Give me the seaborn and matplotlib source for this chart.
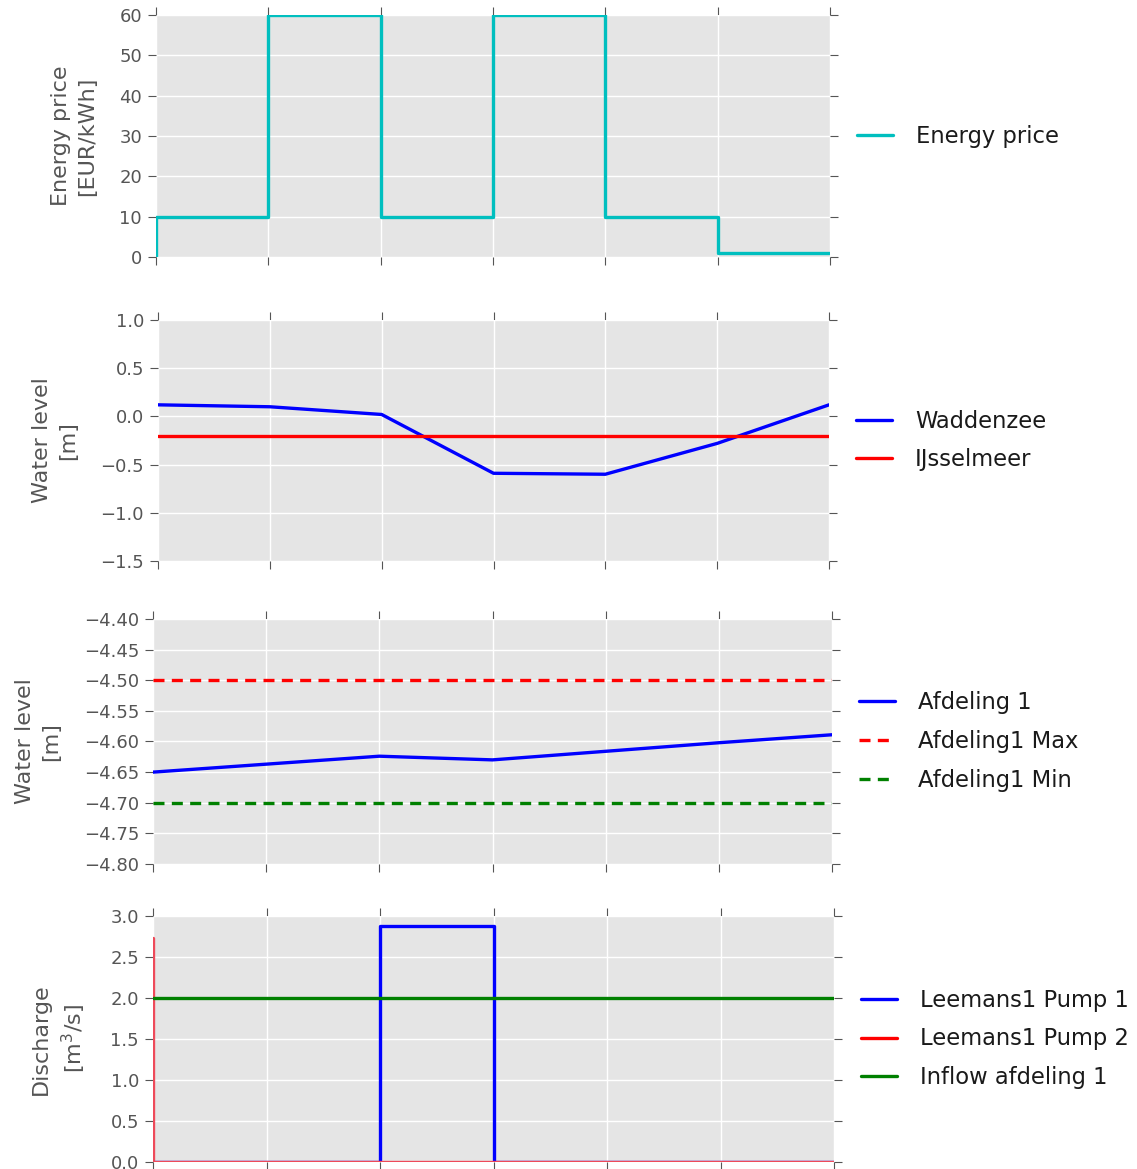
import matplotlib
matplotlib.use("Agg")
import matplotlib.pyplot as plt
import matplotlib.ticker as mticker
import seaborn as sns
import numpy as np

# ---- data ----
time_steps = [0, 1, 2, 3, 4, 5, 6]
energy_price = [0, 10, 60, 10, 60, 10, 1]
waddenzee = [0.12, 0.10, 0.02, -0.59, -0.60, -0.28, 0.12]
ijsselmeer = [-0.20, -0.20, -0.20, -0.20, -0.20, -0.20, -0.20]
afdeling1 = [-4.650, -4.637, -4.624, -4.630, -4.616, -4.602, -4.589]
afdeling1_max = [-4.50, -4.50, -4.50, -4.50, -4.50, -4.50, -4.50]
afdeling1_min = [-4.70, -4.70, -4.70, -4.70, -4.70, -4.70, -4.70]
pump1 = [0.0, 0.0, 0.0, 2.88, 0.0, 0.0, 0.0]
pump2 = [2.73, 0.0, 0.0, 0.0, 0.0, 0.0, 0.0]
inflow = [2.0, 2.0, 2.0, 2.0, 2.0, 2.0, 2.0]

sns.set_theme(style="darkgrid")
plt.rcParams.update({
    "axes.facecolor": "#E5E5E5",
    "axes.edgecolor": "#E5E5E5",
    "grid.color": "white",
    "grid.linewidth": 1.0,
    "xtick.direction": "out",
    "ytick.direction": "out",
    "xtick.major.size": 6,
    "ytick.major.size": 6,
    "xtick.major.width": 0.8,
    "ytick.major.width": 0.8,
    "xtick.color": "#555555",
    "ytick.color": "#555555",
    "xtick.labelcolor": "#555555",
    "ytick.labelcolor": "#555555",
    "axes.labelcolor": "#555555",
    "xtick.top": True,
    "ytick.right": True,
    "xtick.bottom": True,
    "ytick.left": True,
    "lines.dashed_pattern": [3.3, 2.2],
    "axes.unicode_minus": True,
})
plt.rcParams["font.family"] = ["DejaVu Sans"]

C_CYAN = "#00BFBF"
C_BLUE = "#0000FF"
C_RED = "#FF0000"
C_GREEN = "#008000"

fig = plt.figure(figsize=(11.37, 11.69), dpi=100)
W, H = 1137, 1169

def add_ax(x0, x1, y0, y1):
    return fig.add_axes([x0 / W, 1 - y1 / H, (x1 - x0) / W, (y1 - y0) / H])

ax1 = add_ax(156, 830, 15, 257)
ax2 = add_ax(158, 829, 320, 561)
ax3 = add_ax(153, 832, 619, 864)
ax4 = add_ax(153, 834, 916, 1162)

LW = 2.4
TICK_FS = 13
LAB_FS = 16
LEG_FS = 16.3

# Panel 1
sns.lineplot(x=time_steps, y=energy_price, ax=ax1, color=C_CYAN, lw=LW,
             drawstyle="steps-pre", label="Energy price")
ax1.set_ylim(0, 60)
ax1.set_yticks([0, 10, 20, 30, 40, 50, 60])
ax1.set_ylabel("Energy price\n[EUR/kWh]", fontsize=LAB_FS, labelpad=16, linespacing=1.4)

# Panel 2
sns.lineplot(x=time_steps, y=waddenzee, ax=ax2, color=C_BLUE, lw=LW, label="Waddenzee")
sns.lineplot(x=time_steps, y=ijsselmeer, ax=ax2, color=C_RED, lw=LW, label="IJsselmeer")
ax2.set_ylim(-1.5, 1.0)
ax2.set_yticks([-1.5, -1.0, -0.5, 0.0, 0.5, 1.0])
ax2.set_ylabel("Water level\n[m]", fontsize=LAB_FS, labelpad=16, linespacing=1.4)

# Panel 3
sns.lineplot(x=time_steps, y=afdeling1, ax=ax3, color=C_BLUE, lw=LW, label="Afdeling 1")
sns.lineplot(x=time_steps, y=afdeling1_max, ax=ax3, color=C_RED, lw=LW, ls="--",
             label="Afdeling1 Max")
sns.lineplot(x=time_steps, y=afdeling1_min, ax=ax3, color=C_GREEN, lw=LW, ls="--",
             label="Afdeling1 Min")
ax3.set_ylim(-4.8, -4.4)
ax3.set_yticks(np.round(np.arange(-4.80, -4.39, 0.05), 2))
ax3.yaxis.set_major_formatter(mticker.FuncFormatter(lambda v, p: f"{v:.2f}".replace("-", "\u2212")))
ax3.set_ylabel("Water level\n[m]", fontsize=LAB_FS, labelpad=16, linespacing=1.4)

# Panel 4
sns.lineplot(x=time_steps, y=pump1, ax=ax4, color=C_BLUE, lw=LW,
             drawstyle="steps-pre", label="Leemans1 Pump 1")
sns.lineplot(x=time_steps, y=pump2, ax=ax4, color="#EE4A5A", lw=LW,
             drawstyle="steps-pre", label="Leemans1 Pump 2")
sns.lineplot(x=time_steps, y=inflow, ax=ax4, color=C_GREEN, lw=LW, label="Inflow afdeling 1")
ax4.set_ylim(0, 3.0)
ax4.set_yticks([0.0, 0.5, 1.0, 1.5, 2.0, 2.5, 3.0])
ax4.set_ylabel("Discharge\n[m$^3$/s]", fontsize=LAB_FS, labelpad=16, linespacing=1.4)

legend_colors = {
    ax1: [C_CYAN],
    ax2: [C_BLUE, C_RED],
    ax3: [C_BLUE, C_RED, C_GREEN],
    ax4: [C_BLUE, C_RED, C_GREEN],
}

for ax in (ax1, ax2, ax3, ax4):
    ax.set_xlim(0, 6)
    ax.set_xticks(time_steps)
    ax.set_xticklabels([])
    ax.tick_params(axis="y", labelsize=TICK_FS, pad=4)
    ax.tick_params(axis="both", which="major", top=True, right=True, bottom=True, left=True)
    for s in ax.spines.values():
        s.set_visible(False)
    ax.grid(True, color="white", lw=1.0)
    ax.set_xlabel("")
    leg = ax.legend(loc="center left", bbox_to_anchor=(1.01, 0.5), frameon=False,
                    fontsize=LEG_FS, handlelength=1.6, handletextpad=1.0, labelspacing=0.7)
    for h, c in zip(leg.get_lines(), legend_colors[ax]):
        h.set_linewidth(LW)
        h.set_alpha(1.0)
        h.set_color(c)
    for t in leg.get_texts():
        t.set_color("#1a1a1a")

fig.savefig("out.png", dpi=100)
